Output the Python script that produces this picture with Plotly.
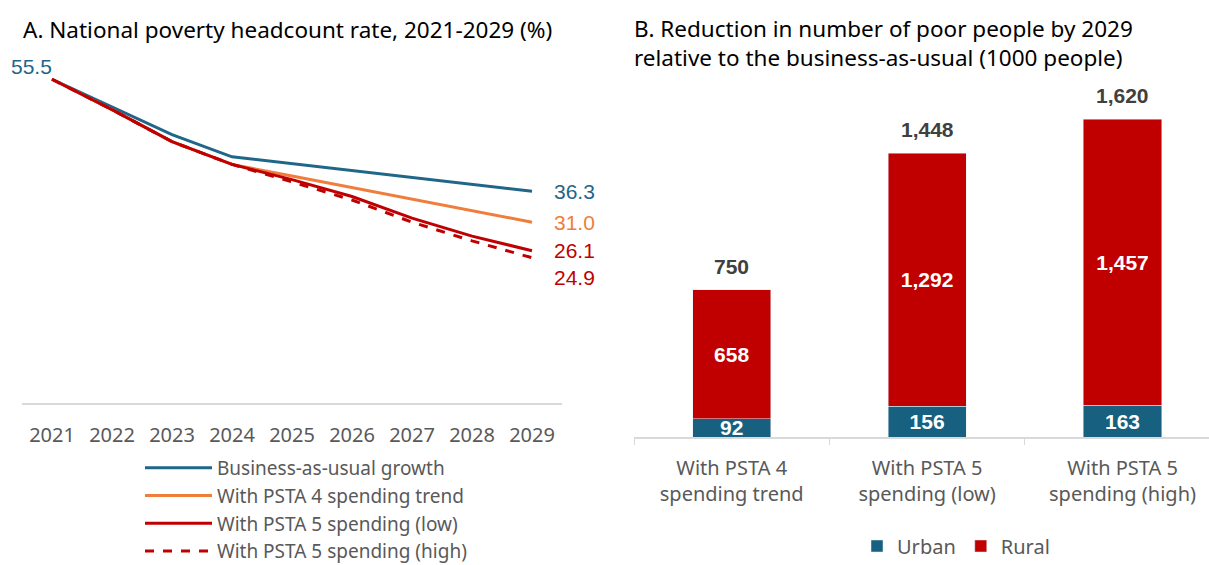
import plotly.graph_objects as go

# ---- Panel A: national poverty headcount rate (%) ----
years = [2021, 2022, 2023, 2024, 2025, 2026, 2027, 2028, 2029]
bau = [55.5, 50.8, 46.0, 42.2, 41.0, 39.8, 38.6, 37.4, 36.3]
psta4 = [55.5, 50.3, 44.8, 40.9, 38.9, 36.9, 34.9, 32.9, 31.0]
psta5_low = [55.5, 50.3, 44.8, 40.9, 38.3, 35.4, 31.7, 28.6, 26.1]
psta5_high = [55.5, 50.3, 44.8, 40.9, 37.9, 34.8, 31.0, 27.8, 24.9]

line_names = [
    "Business-as-usual growth",
    "With PSTA 4 spending trend",
    "With PSTA 5 spending (low)",
    "With PSTA 5 spending (high)",
]

# ---- Panel B: reduction in number of poor people (1000 people) ----
scenarios = [
    "With PSTA 4<br>spending trend",
    "With PSTA 5<br>spending (low)",
    "With PSTA 5<br>spending (high)",
]
urban = [92, 156, 163]
rural = [658, 1292, 1457]
totals = [u + r for u, r in zip(urban, rural)]

BLUE = "#1f6688"
BAR_BLUE = "#17607f"
ORANGE = "#ef7d3c"
RED = "#c00000"
GREY_TXT = "#595959"
AXIS_GREY = "#d9d9d9"
TITLE_FONT = "Noto Sans"
NUM_FONT = "Liberation Sans"

W, H = 1209, 565


def px_x(p):
    return p / W


def px_y(p):
    return 1 - p / H


fig = go.Figure()

series = [
    (bau, BLUE, "solid"),
    (psta4, ORANGE, "solid"),
    (psta5_low, RED, "solid"),
    (psta5_high, RED, "dash"),
]
for (vals, col, dash), name in zip(series, line_names):
    fig.add_trace(go.Scatter(
        x=years, y=vals, mode="lines", name=name,
        line=dict(color=col, width=3, dash=dash),
        xaxis="x", yaxis="y", legend="legend",
    ))

bar_text_font = dict(family=NUM_FONT, size=21, color="white", weight="bold")
fig.add_trace(go.Bar(
    x=scenarios, y=urban, name="Urban", marker_color=BAR_BLUE,
    text=[f"{v:,}" for v in urban], textposition="inside",
    insidetextanchor="middle", textangle=0, textfont=bar_text_font,
    width=0.40, xaxis="x2", yaxis="y2", legend="legend2",
))
fig.add_trace(go.Bar(
    x=scenarios, y=rural, name="Rural", marker_color=RED,
    text=[f"{v:,}" for v in rural], textposition="inside",
    insidetextanchor="middle", textangle=0, textfont=bar_text_font,
    width=0.40, xaxis="x2", yaxis="y2", legend="legend2",
))

annotations = []

# Start and end value labels on the lines
annotations.append(dict(
    x=years[0], y=bau[0], xref="x", yref="y", text=f"{bau[0]:.1f}",
    xanchor="right", yanchor="bottom", xshift=2, yshift=-1, showarrow=False,
    font=dict(family=NUM_FONT, size=21, color=BLUE),
))
end_shift = [0, 0, 0, -20]
for (vals, col, _), ys in zip(series, end_shift):
    annotations.append(dict(
        x=years[-1], y=vals[-1], xref="x", yref="y", text=f"{vals[-1]:.1f}",
        xanchor="left", yanchor="middle", xshift=20, yshift=ys, showarrow=False,
        font=dict(family=NUM_FONT, size=21, color=col),
    ))

# Totals above the stacked bars
for cat, tot in zip(scenarios, totals):
    annotations.append(dict(
        x=cat, y=tot, xref="x2", yref="y2", text=f"<b>{tot:,}</b>",
        xanchor="center", yanchor="bottom", yshift=10, showarrow=False,
        font=dict(family=NUM_FONT, size=21, color="#404040"),
    ))

# Panel titles
annotations.append(dict(
    x=px_x(21), y=px_y(30), xref="paper", yref="paper",
    text="A. National poverty headcount rate, 2021-2029 (%)",
    xanchor="left", yanchor="middle", showarrow=False,
    font=dict(family=TITLE_FONT, size=22.5, color="#000000"),
))
annotations.append(dict(
    x=px_x(632), y=px_y(42.5), xref="paper", yref="paper",
    text="B. Reduction in number of poor people by 2029<br>relative to the business-as-usual (1000 people)",
    xanchor="left", yanchor="middle", align="left", showarrow=False,
    font=dict(family=TITLE_FONT, size=22.5, color="#000000"),
))

fig.update_layout(
    width=W, height=H,
    margin=dict(l=0, r=0, t=0, b=0, autoexpand=False),
    paper_bgcolor="white", plot_bgcolor="white",
    barmode="stack",
    showlegend=True,
    font=dict(family=TITLE_FONT, color=GREY_TXT),
    uniformtext=dict(minsize=21, mode="show"),
    xaxis=dict(
        domain=[px_x(22), px_x(562)], range=[2020.5, 2029.5],
        tickmode="array", tickvals=years, ticktext=[str(y) for y in years],
        showgrid=False, zeroline=False, showline=True, linecolor=AXIS_GREY,
        linewidth=2, ticks="", ticklabelstandoff=13,
        tickfont=dict(family=TITLE_FONT, size=20, color=GREY_TXT),
        anchor="y",
    ),
    yaxis=dict(
        domain=[px_y(403), px_y(53)], range=[0, 60],
        visible=False, showgrid=False, zeroline=False, anchor="x",
    ),
    xaxis2=dict(
        domain=[px_x(634), 1.0], range=[-0.5, 2.4425],
        type="category", showgrid=False, zeroline=False, showline=True,
        linecolor=AXIS_GREY, linewidth=1.5, ticks="outside", tickson="boundaries",
        tickcolor=AXIS_GREY, ticklen=6, ticklabelstandoff=12,
        tickfont=dict(family=TITLE_FONT, size=20, color=GREY_TXT),
        anchor="y2",
    ),
    yaxis2=dict(
        domain=[px_y(437), px_y(84)], range=[0, 1800],
        visible=False, showgrid=False, zeroline=False, anchor="x2",
    ),
    legend=dict(
        x=px_x(140), y=px_y(449), xanchor="left", yanchor="top",
        orientation="v", itemwidth=67, tracegroupgap=0,
        font=dict(family=TITLE_FONT, size=19, color=GREY_TXT),
        bgcolor="rgba(0,0,0,0)",
    ),
    legend2=dict(
        x=px_x(956), y=px_y(546), xanchor="center", yanchor="middle",
        orientation="h", itemwidth=30, traceorder="normal",
        font=dict(family=TITLE_FONT, size=20, color=GREY_TXT),
        bgcolor="rgba(0,0,0,0)",
    ),
    annotations=annotations,
)

fig.write_html("out.html")
